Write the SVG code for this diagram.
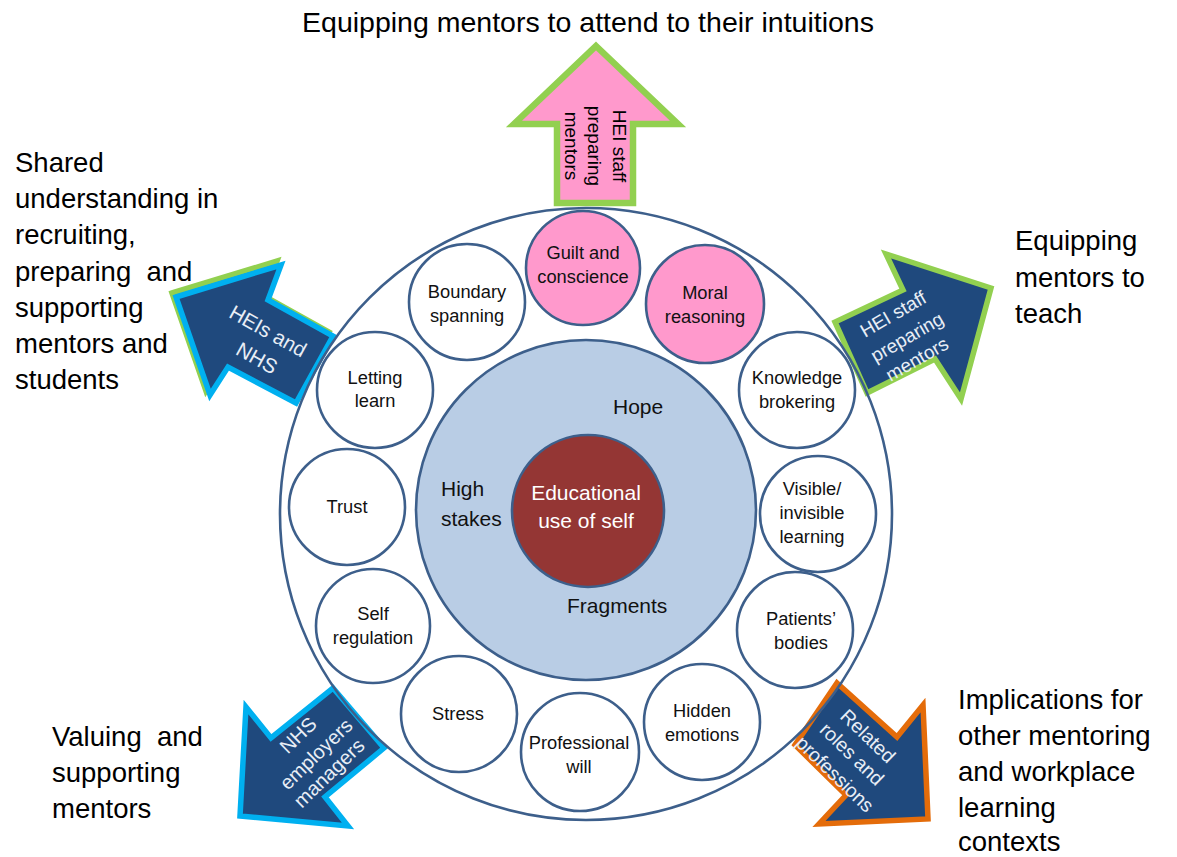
<svg xmlns="http://www.w3.org/2000/svg" width="1177" height="857" viewBox="0 0 1177 857">
<style>
.lbl{font-family:"Liberation Sans","Open Sans",sans-serif;font-size:27.5px;fill:#000}
.ct{font-family:"Liberation Sans","Open Sans",sans-serif;font-size:18.3px;fill:#111;text-anchor:middle}
.it{font-family:"Liberation Sans","Open Sans",sans-serif;font-size:21px;fill:#111}
.at{font-family:"Liberation Sans","Open Sans",sans-serif;font-size:19.5px;fill:#e8eef6;text-anchor:middle}
.sc{fill:#fff;stroke:#3d5f8b;stroke-width:2.6}
.pk{fill:#ff99cc;stroke:#3d5f8b;stroke-width:2.6}
.arr{fill:#1f497d;stroke-width:5.5;stroke-linejoin:miter;stroke-miterlimit:10}
</style>
<rect width="1177" height="857" fill="#fff"/>
<g id="outer-ring"><circle cx="586" cy="514" r="306" fill="#fff"/></g>
<g id="connectors">
 <g id="arrow-top">
  <polygon points="596,46 678,124 633,124 633,203 557,203 557,124 514,124" fill="#ff99cc" stroke="#92d050" stroke-width="6.5" stroke-linejoin="miter"/>
  <text class="at" style="fill:#000;font-size:19px" transform="translate(620,146) rotate(90)" dy="0.35em">HEI staff</text>
  <text class="at" style="fill:#000;font-size:19px" transform="translate(595,146) rotate(90)" dy="0.35em">preparing</text>
  <text class="at" style="fill:#000;font-size:19px" transform="translate(572,146) rotate(90)" dy="0.35em">mentors</text>
 </g>
 <g id="arrow-left">
  <polygon transform="translate(-4,-4)" class="arr" stroke="#92d050" points="176,297 281,265 268,300 333,336 296,403 228,367 210,395"/>
  <polygon class="arr" stroke="#00b0f0" points="176,297 281,265 268,300 333,336 296,403 228,367 210,395"/>
  <text class="at" style="font-size:20.5px" transform="translate(268,331) rotate(29)" dy="0.35em">HEIs and</text>
  <text class="at" style="font-size:20.5px" transform="translate(257,358) rotate(29)" dy="0.35em">NHS</text>
 </g>
 <g id="arrow-right">
  <polygon class="arr" stroke="#92d050" points="991,288 886,254 903,290 835,322 867,393 935,359 961,399"/>
  <text class="at" style="font-size:19px" transform="translate(893,314) rotate(-30)" dy="0.35em">HEI staff</text>
  <text class="at" style="font-size:19px" transform="translate(907,337) rotate(-30)" dy="0.35em">preparing</text>
  <text class="at" style="font-size:19px" transform="translate(917,359) rotate(-30)" dy="0.35em">mentors</text>
 </g>
 <g id="arrow-bottom-left">
  <polygon class="arr" stroke="#00b0f0" points="240,816 246,707 271,738 333,688 384,748 325,797 348,826"/>
  <text class="at" style="font-size:20px" transform="translate(298,735) rotate(-44)" dy="0.35em">NHS</text>
  <text class="at" style="font-size:20px" transform="translate(316,754) rotate(-44)" dy="0.35em">employers</text>
  <text class="at" style="font-size:20px" transform="translate(329,773) rotate(-44)" dy="0.35em">managers</text>
 </g>
 <g id="arrow-bottom-right">
  <polygon class="arr" stroke="#e46c0a" points="837,683 897,737 923,705 928,819 819,824 846,795 795,745"/>
  <text class="at" transform="translate(868,736) rotate(44)" dy="0.35em">Related</text>
  <text class="at" transform="translate(852,754) rotate(44)" dy="0.35em">roles and</text>
  <text class="at" transform="translate(835,774) rotate(44)" dy="0.35em">professions</text>
 </g>
</g>
<g id="outer-ring-line"><circle cx="586" cy="514" r="306" fill="none" stroke="#3d5f8b" stroke-width="2.6"/></g>
<g id="core">
 <circle cx="586" cy="510" r="170" fill="#b9cde5" stroke="#3d5f8b" stroke-width="2.6"/>
 <text class="it" x="613" y="414">Hope</text>
 <text class="it" x="441" y="496">High</text>
 <text class="it" x="441" y="526">stakes</text>
 <text class="it" x="567" y="613">Fragments</text>
</g>
<g id="center">
 <circle cx="588" cy="511" r="76" fill="#943634" stroke="#3d5f8b" stroke-width="2.6"/>
 <text class="it" style="fill:#fff" x="586" y="500" text-anchor="middle">Educational</text>
 <text class="it" style="fill:#fff" x="586" y="528" text-anchor="middle">use of self</text>
</g>
<g id="guilt"><circle class="pk" cx="583" cy="268" r="57"/><text class="ct" x="583" y="259">Guilt and</text><text class="ct" x="583" y="283">conscience</text></g>
<g id="moral"><circle class="pk" cx="705" cy="304" r="59"/><text class="ct" x="705" y="299">Moral</text><text class="ct" x="705" y="323">reasoning</text></g>
<g id="boundary"><circle class="sc" cx="467" cy="302" r="58"/><text class="ct" x="467" y="298">Boundary</text><text class="ct" x="467" y="322">spanning</text></g>
<g id="letting"><circle class="sc" cx="375" cy="390" r="58"/><text class="ct" x="375" y="384">Letting</text><text class="ct" x="375" y="407">learn</text></g>
<g id="knowledge"><circle class="sc" cx="797" cy="390" r="58"/><text class="ct" x="797" y="384">Knowledge</text><text class="ct" x="797" y="408">brokering</text></g>
<g id="trust"><circle class="sc" cx="347" cy="507" r="58"/><text class="ct" x="347" y="513">Trust</text></g>
<g id="visible"><circle class="sc" cx="818" cy="514" r="58"/><text class="ct" x="812" y="495">Visible/</text><text class="ct" x="812" y="519">invisible</text><text class="ct" x="812" y="543">learning</text></g>
<g id="selfreg"><circle class="sc" cx="373" cy="626" r="57"/><text class="ct" x="373" y="620">Self</text><text class="ct" x="373" y="644">regulation</text></g>
<g id="patients"><circle class="sc" cx="795" cy="630" r="58"/><text class="ct" x="801" y="625">Patients’</text><text class="ct" x="801" y="649">bodies</text></g>
<g id="stress"><circle class="sc" cx="459" cy="714" r="58"/><text class="ct" x="458" y="720">Stress</text></g>
<g id="professional"><circle class="sc" cx="580" cy="752" r="59"/><text class="ct" x="579" y="749">Professional</text><text class="ct" x="579" y="773">will</text></g>
<g id="hidden"><circle class="sc" cx="702" cy="722" r="58"/><text class="ct" x="702" y="717">Hidden</text><text class="ct" x="702" y="741">emotions</text></g>
<g id="label-top"><text class="lbl" style="font-size:28.5px" x="588" y="32" text-anchor="middle">Equipping mentors to attend to their intuitions</text></g>
<g id="label-left">
 <text class="lbl" x="15" y="172">Shared</text>
 <text class="lbl" x="15" y="208">understanding in</text>
 <text class="lbl" x="15" y="244">recruiting,</text>
 <text class="lbl" x="15" y="281" xml:space="preserve">preparing  and</text>
 <text class="lbl" x="15" y="317">supporting</text>
 <text class="lbl" x="15" y="353">mentors and</text>
 <text class="lbl" x="15" y="389">students</text>
</g>
<g id="label-right">
 <text class="lbl" x="1015" y="250">Equipping</text>
 <text class="lbl" x="1015" y="287">mentors to</text>
 <text class="lbl" x="1015" y="323">teach</text>
</g>
<g id="label-bottom-left">
 <text class="lbl" x="52" y="746" xml:space="preserve">Valuing  and</text>
 <text class="lbl" x="52" y="782">supporting</text>
 <text class="lbl" x="52" y="818">mentors</text>
</g>
<g id="label-bottom-right">
 <text class="lbl" x="958" y="709">Implications for</text>
 <text class="lbl" x="958" y="745">other mentoring</text>
 <text class="lbl" x="958" y="781">and workplace</text>
 <text class="lbl" x="958" y="817">learning</text>
 <text class="lbl" x="958" y="851">contexts</text>
</g>
</svg>
